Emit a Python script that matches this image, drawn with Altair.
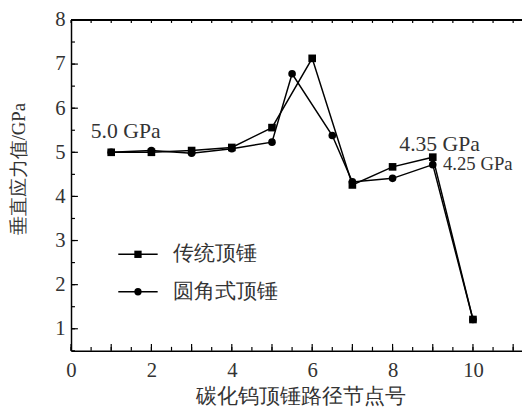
import altair as alt
import pandas as pd

series = ["传统顶锤", "圆角式顶锤"]
x_trad = [1, 2, 3, 4, 5, 6, 7, 8, 9, 10]
y_trad = [5.0, 5.0, 5.04, 5.11, 5.56, 7.13, 4.26, 4.67, 4.89, 1.21]
x_round = [1, 2, 3, 4, 5, 5.5, 6.5, 7, 8, 9, 10]
y_round = [5.0, 5.04, 4.98, 5.08, 5.23, 6.78, 5.38, 4.33, 4.41, 4.72, 1.21]

ann_big_text = ["5.0 GPa", "4.35 GPa"]
ann_big_x = [1.36, 9.17]
ann_big_y = [5.48, 5.19]
ann_small_text = ["4.25 GPa"]
ann_small_x = [10.12]
ann_small_y = [4.73]

x_labels = [0, 2, 4, 6, 8, 10]
x_major = list(range(0, 12))
x_minor = [i * 0.5 for i in range(0, 23)]
y_labels = [1, 2, 3, 4, 5, 6, 7, 8]
y_minor = [0.5 + i * 0.5 for i in range(0, 16)]

SERIF = "Liberation Serif"
TXT = "#333333"
W, H = 458, 336

trad = pd.DataFrame({"x": x_trad, "y": y_trad, "series": series[0]})
rnd = pd.DataFrame({"x": x_round, "y": y_round, "series": series[1]})
df = pd.concat([trad, rnd], ignore_index=True)
ann_big = pd.DataFrame({"text": ann_big_text, "x": ann_big_x, "y": ann_big_y})
ann_small = pd.DataFrame({"text": ann_small_text, "x": ann_small_x, "y": ann_small_y})
xmaj = pd.DataFrame({"v": x_major})
xmin = pd.DataFrame({"v": x_minor})
ymaj = pd.DataFrame({"v": y_labels})
ymin = pd.DataFrame({"v": y_minor})

xs = alt.Scale(domain=[0, 11.22], nice=False, zero=False)
ys = alt.Scale(domain=[0.5, 8], nice=False, zero=False)

x_axis = alt.Axis(
    orient="bottom", values=x_labels, ticks=False, domain=True, domainColor="black",
    domainWidth=1.5, grid=False, labelOverlap=False,
    labelFont=SERIF, labelFontSize=21, labelColor=TXT,
    labelPadding=9, labelFlush=False, format="d",
    title="碳化钨顶锤路径节点号", titleFont=SERIF, titleFontSize=21,
    titleFontWeight="normal", titleColor=TXT,
    titleX=233, titleY=46, titleAlign="center", titleBaseline="middle",
)
y_axis = alt.Axis(
    orient="left", values=y_labels, ticks=False, domain=True, domainColor="black",
    domainWidth=1.5, grid=False, labelOverlap=False,
    labelFont=SERIF, labelFontSize=21, labelColor=TXT,
    labelPadding=6, labelFlush=False, format="d",
    title="垂直应力值/GPa", titleFont=SERIF, titleFontSize=19, titleFontWeight="normal",
    titleColor=TXT, titleX=-53, titleY=151, titleAlign="center", titleBaseline="middle",
)

lines = alt.Chart(df).mark_line(color="black", strokeWidth=1.5).encode(
    x=alt.X("x:Q", scale=xs, axis=x_axis),
    y=alt.Y("y:Q", scale=ys, axis=y_axis),
    detail="series:N",
)

squares = alt.Chart(trad).mark_point(
    shape="square", filled=True, color="black", opacity=1, size=60
).encode(x=alt.X("x:Q", scale=xs), y=alt.Y("y:Q", scale=ys))

circles = alt.Chart(rnd).mark_point(
    shape="circle", filled=True, color="black", opacity=1, size=60
).encode(x=alt.X("x:Q", scale=xs), y=alt.Y("y:Q", scale=ys))


def ann_layer(data, fs):
    return alt.Chart(data).mark_text(
        font=SERIF, fontSize=fs, color=TXT, align="center", baseline="middle"
    ).encode(x=alt.X("x:Q", scale=xs), y=alt.Y("y:Q", scale=ys), text="text:N")


def xtick(data, y0, y1):
    return alt.Chart(data).mark_rule(color="black", strokeWidth=1.2).encode(
        x=alt.X("v:Q", scale=xs), y=alt.value(y0), y2=alt.value(y1)
    )


def ytick(data, length):
    return alt.Chart(data).mark_rule(color="black", strokeWidth=1.2).encode(
        y=alt.Y("v:Q", scale=ys), x=alt.value(0), x2=alt.value(length)
    )


top_border = alt.Chart(xmaj).mark_rule(color="black", strokeWidth=1.6).encode(
    y=alt.value(0), x=alt.value(0), x2=alt.value(W)
)

# manual legend (line + marker + label), one row per series
legend_rows = []
row_y = [238, 276]
shapes = ["square", "circle"]
for name, ry, shp in zip(series, row_y, shapes):
    d = pd.DataFrame({"s": [name]})
    legend_rows.append(
        alt.Chart(d).mark_rule(color="black", strokeWidth=1.5).encode(
            x=alt.value(48), x2=alt.value(88), y=alt.value(ry)
        )
    )
    legend_rows.append(
        alt.Chart(d).mark_point(shape=shp, filled=True, color="black", opacity=1, size=55).encode(
            x=alt.value(68), y=alt.value(ry)
        )
    )
    legend_rows.append(
        alt.Chart(d).mark_text(
            font=SERIF, fontSize=21, color=TXT, align="left", baseline="middle"
        ).encode(x=alt.value(104), y=alt.value(ry), text="s:N")
    )

chart = (
    alt.layer(
        lines, squares, circles,
        ann_layer(ann_big, 22), ann_layer(ann_small, 19),
        xtick(xmaj, H, H - 7), xtick(xmin, H, H - 4), xtick(xmin, 0, 3),
        ytick(ymaj, 7), ytick(ymin, 4), top_border,
        *legend_rows,
    )
    .properties(
        width=W, height=H,
        autosize=alt.AutoSizeParams(type="none"),
        padding={"left": 64, "top": 9, "right": 0, "bottom": 60},
    )
    .configure_view(stroke=None)
)

chart.save("out.html", embed_options={"renderer": "svg", "actions": False})
